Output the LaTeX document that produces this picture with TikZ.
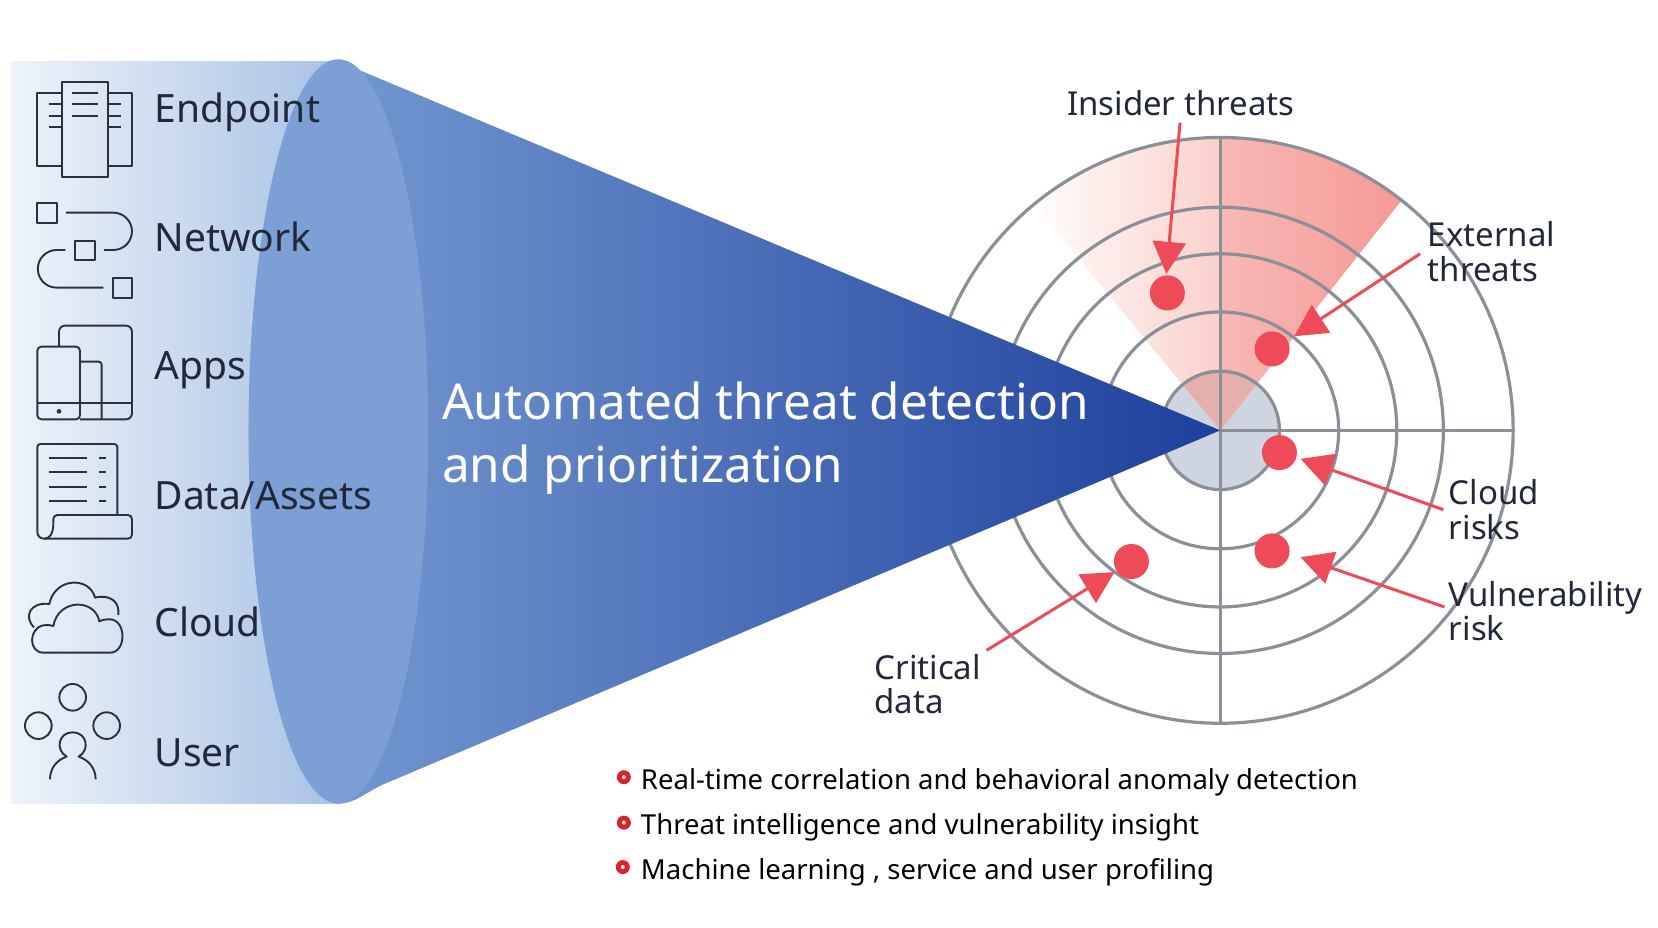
\documentclass[tikz,border=0pt]{standalone}
\usepackage{fontspec}
\setmainfont{Noto Sans}
\usetikzlibrary{arrows.meta}
\definecolor{ringgray}{HTML}{8A8F98}
\definecolor{hotred}{HTML}{EF4A58}
\definecolor{inkdark}{HTML}{22283A}
\definecolor{iconink}{HTML}{2A3040}
\definecolor{panelA}{HTML}{EEF3FA}
\definecolor{panelB}{HTML}{C6D7EE}
\definecolor{panelC}{HTML}{A8C2E5}
\definecolor{coneA}{HTML}{7397D0}
\definecolor{coneB}{HTML}{4F74BA}
\definecolor{coneC}{HTML}{1E3F9C}
\definecolor{capfill}{HTML}{7C9FD6}
\definecolor{diskfill}{HTML}{CFD5E0}
\definecolor{wedgefill}{HTML}{E5AFAB}
\definecolor{pinkA}{HTML}{FAD0CA}
\definecolor{pinkB}{HTML}{F7B9B4}
\definecolor{pinkC}{HTML}{F59896}
\definecolor{bulletred}{HTML}{E0202C}
\tikzset{
  ring/.style={draw=ringgray,line width=3.2pt},
  hotdot/.style={circle,fill=hotred,minimum size=35pt,inner sep=0pt},
  pointer/.style={draw=hotred,line width=3pt,-{Triangle[length=32pt,width=33pt]}},
  lab/.style={text=inkdark,font=\fontsize{39}{40}\selectfont,anchor=base west,inner sep=0pt},
  small/.style={text=inkdark,font=\fontsize{33}{34.5}\selectfont,align=left,inner sep=0pt},
  title/.style={text=white,font=\fontsize{49.5}{63}\selectfont,align=left,anchor=west,inner sep=0pt},
  bul/.style={text=black,font=\fontsize{27.5}{30}\selectfont,anchor=base west,inner sep=0pt},
  bulletdot/.style={circle,fill=bulletred,minimum size=14pt,inner sep=0pt},
  bullethole/.style={circle,fill=white,minimum size=4pt,inner sep=0pt},
  icon/.style={draw=iconink,line width=1.9pt,line join=round},
}
\begin{document}
\begin{tikzpicture}[x=1.0574pt,y=-1.0574pt]
\useasboundingbox (0,0) rectangle (1568,877.6);
% left panel
\shade[left color=panelA,middle color=panelB,right color=panelC] (11,58) rectangle (320,760);
% radar
\coordinate (C) at (1154,407);
\fill[fill=diskfill] (C) circle (56);
\begin{scope}
\clip (C) -- ++(-260,-316) -- ++(0,-100) -- ++(509,0) -- ++(0,100) -- cycle;
\clip (C) circle (277);
\shade[left color=white,right color=pinkA] (970,130) rectangle (1154,407);
\shade[left color=pinkB,right color=pinkC] (1154,130) rectangle (1328,407);
\fill[fill=wedgefill] (C) circle (56);
\end{scope}
\foreach \r in {56,112,167,211,277}{\draw[ring] (C) circle (\r);}
\draw[ring] (1154,130) -- (1154,685);
\draw[ring] (C) -- (1432,407);
% dots
\node[hotdot] (d1) at (1104,277) {};
\node[hotdot] (d2) at (1203,330) {};
\node[hotdot] (d3) at (1210,428) {};
\node[hotdot] (d4) at (1203,521) {};
\node[hotdot] (d5) at (1070,531) {};
% cone
\shade[left color=coneA,middle color=coneB,right color=coneC] (320,58) -- (C) -- (362,742) .. controls (345,750) and (335,760) .. (320,760) -- cycle;
\fill[fill=capfill] (320,408) ellipse (85 and 352);
% icons, upper
\begin{scope}[shift={(0,47.3)},x=.3333pt,y=-.3333pt]
\draw[icon] (185,130)--(112,130)--(112,347)--(185,347) (325,130)--(396,130)--(396,347)--(325,347);
\draw[icon] (185,97) rectangle (325,380);
\foreach \y in {130,163,197}{\draw[icon] (217,\y)--(293,\y);}
\foreach \y in {163,197,230}{\draw[icon] (147,\y)--(185,\y) (325,\y)--(362,\y);}
\draw[icon] (112,460) rectangle (170,518) (226,572) rectangle (284,630) (338,685) rectangle (396,743);
\draw[icon] (198,488)--(340,488) arc (-90:90:56) --(312,600);
\draw[icon] (196,600)--(170,600) arc (-90:-270:56.5) --(310,713);
\draw[icon,rounded corners=6pt] (177,888)--(177,827)--(396,827)--(396,1108)--(240,1108);
\draw[icon,rounded corners=4pt] (112,890) rectangle (240,1108);
\draw[icon,rounded corners=3pt] (240,935)--(305,935)--(305,1108);
\draw[icon] (112,1058)--(396,1058);
\fill[iconink] (177,1084) circle (7);
\end{scope}
% icons, lower
\begin{scope}[shift={(0,397.2)},x=.3333pt,y=-.3333pt]
\draw[icon,rounded corners=3pt] (352,285)--(352,72)--(112,72)--(112,335);
\draw[icon] (112,335) .. controls (112,350) and (122,356) .. (133,356) .. controls (150,356) and (160,340) .. (160,310);
\draw[icon,rounded corners=4pt] (160,310)--(160,285)--(396,285)--(396,356)--(133,356);
\foreach \y in {115,157,200,242}{\draw[icon] (147,\y)--(262,\y) (297,\y)--(317,\y);}
% clouds
\draw[icon] (130,698)--(330,698) .. controls (380,698) and (380,600) .. (330,598) .. controls (318,598) and (305,600) .. (298,604) .. controls (285,535) and (175,535) .. (160,618) .. controls (150,615) and (140,614) .. (130,616) .. controls (85,625) and (85,698) .. (130,698);
\draw[icon] (102,622) .. controls (70,590) and (90,545) .. (148,552) .. controls (165,470) and (270,470) .. (285,533) .. controls (330,522) and (360,545) .. (355,585);
% user
\draw[icon] (218,832) circle (40) (115,917) circle (40) (320,917) circle (40);
\draw[icon] (150,1078) .. controls (150,1045) and (170,1020) .. (200,1010) .. controls (165,990) and (175,937) .. (218,937) .. controls (261,937) and (271,990) .. (236,1010) .. controls (266,1020) and (287,1045) .. (287,1078);
\end{scope}
% labels
\node[lab] (l1) at (146,116) {Endpoint};
\node[lab] (l2) at (146,238) {Network};
\node[lab] (l3) at (146,359) {Apps};
\node[lab] (l4) at (146,482) {Data/Assets};
\node[lab] (l5) at (146,602) {Cloud};
\node[lab] (l6) at (146,725) {User};
\node[title] (t) at (418,414) {Automated threat detection\\and prioritization};
% radar labels
\node[small,anchor=base west] (r1) at (1009,109) {Insider threats};
\node[small,anchor=west] (r2) at (1350,238) {External\\threats};
\node[small,anchor=west] (r3) at (1370,482) {Cloud\\risks};
\node[small,anchor=west] (r4) at (1370,578) {Vulnerability\\risk};
\node[small,anchor=west] (r5) at (827,647) {Critical\\data};
% pointers
\coordinate (p1s) at (1116,116); \coordinate (p1e) at (1103,259);
\coordinate (p2s) at (1343,240); \coordinate (p2e) at (1224,318);
\coordinate (p3s) at (1365,482); \coordinate (p3e) at (1230,434);
\coordinate (p4s) at (1366,574); \coordinate (p4e) at (1230,527);
\coordinate (p5s) at (933,615);  \coordinate (p5e) at (1054,541);
\foreach \k in {1,...,5}{\draw[pointer] (p\k s) -- (p\k e);}
% bullets
\node[bulletdot] (b1) at (590,735) {}; \node[bullethole] at (b1) {};
\node[bulletdot] (b2) at (590,778) {}; \node[bullethole] at (b2) {};
\node[bulletdot] (b3) at (589,820) {}; \node[bullethole] at (b3) {};
\node[bul] (x1) at (606,747) {Real-time correlation and behavioral anomaly detection};
\node[bul] (x2) at (606,789) {Threat intelligence and vulnerability insight};
\node[bul] (x3) at (606,832) {Machine learning , service and user profiling};
\end{tikzpicture}
\end{document}
